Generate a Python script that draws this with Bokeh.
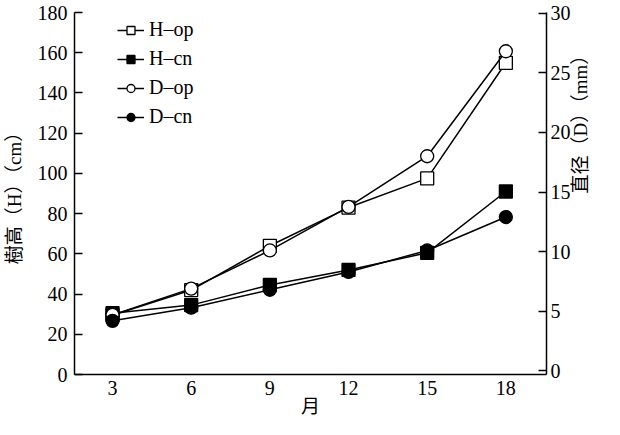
import math
from bokeh.plotting import figure
from bokeh.models import Range1d, LinearAxis, FixedTicker, Legend, LegendItem
from bokeh.embed import file_html
from bokeh.resources import INLINE

months = [3, 6, 9, 12, 15, 18]
h_op = [29.5, 42, 64, 83, 97.5, 155]
h_cn = [30.5, 34.5, 44.5, 52, 60.5, 91]
d_op = [4.7, 6.9, 10.1, 13.75, 18.0, 26.8]
d_cn = [4.2, 5.3, 6.8, 8.3, 10.1, 12.9]
left_ticks = [0, 20, 40, 60, 80, 100, 120, 140, 160, 180]
right_ticks = [0, 5, 10, 15, 20, 25, 30]
labels = ["H\u2013op", "H\u2013cn", "D\u2013op", "D\u2013cn"]

SERIF = "'Liberation Serif'"
MIXED = "'Liberation Serif', 'Noto Sans CJK SC'"

p = figure(width=604, height=419, output_backend="svg", toolbar_location=None,
           x_range=Range1d(1.55, 19.55), y_range=Range1d(0, 180),
           min_border_left=70, min_border_right=40, min_border_top=12, min_border_bottom=40)
p.extra_y_ranges = {"D": Range1d(-0.3, 30.05)}
p.outline_line_color = None
p.xgrid.visible = False
p.ygrid.visible = False
p.background_fill_color = "white"
p.border_fill_color = "white"


def style(ax):
    ax.minor_tick_line_color = None
    ax.axis_line_width = 1.5
    ax.axis_line_color = "black"
    ax.major_tick_line_width = 1.5
    ax.major_tick_line_color = "black"
    ax.major_label_text_font = SERIF
    ax.major_label_text_font_size = "20px"
    ax.major_label_text_color = "black"
    ax.axis_label_text_font = MIXED
    ax.axis_label_text_font_size = "19px"
    ax.axis_label_text_font_style = "normal"
    ax.axis_label_text_color = "black"


# x axis
xa = p.xaxis[0]
style(xa)
xa.ticker = FixedTicker(ticks=months)
xa.major_tick_in = 0
xa.major_tick_out = 0
xa.major_label_standoff = 6
xa.axis_label = "月"
xa.axis_label_standoff = -2

# left axis
ya = p.yaxis[0]
style(ya)
ya.ticker = FixedTicker(ticks=left_ticks)
ya.major_tick_in = 8
ya.major_tick_out = 0
ya.major_label_standoff = 7
ya.axis_label = "樹高（H）（cm）"
ya.axis_label_standoff = 10

# right axis
ra = LinearAxis(y_range_name="D", ticker=FixedTicker(ticks=right_ticks))
style(ra)
ra.major_tick_in = 8
ra.major_tick_out = 0
ra.major_label_standoff = 4
ra.axis_label = "直径（D）（mm）"
ra.axis_label_standoff = 7
try:
    ra.axis_label_orientation = math.pi / 2
except Exception:
    pass
p.add_layout(ra, "right")

items = []
series = [
    (h_op, "square", "white", "default", labels[0]),
    (h_cn, "square", "black", "default", labels[1]),
    (d_op, "circle", "white", "D", labels[2]),
    (d_cn, "circle", "black", "D", labels[3]),
]
for ys, marker, fill, rng, lab in series:
    kw = {} if rng == "default" else {"y_range_name": rng}
    ln = p.line(months, ys, line_color="black", line_width=1.5, **kw)
    sc = p.scatter(months, ys, marker=marker, size=13,
                   fill_color=fill, line_color="black", line_width=1.3, **kw)
    items.append(LegendItem(label=lab, renderers=[ln, sc]))

legend = Legend(items=items, location=(43, 246), padding=0, margin=0,
                glyph_width=27, glyph_height=20, label_standoff=5, spacing=6,
                label_text_font=SERIF, label_text_font_size="20px",
                label_text_color="black",
                border_line_color=None, background_fill_alpha=0)
p.add_layout(legend, "center")

open("out.html", "w").write(file_html(p, INLINE))
